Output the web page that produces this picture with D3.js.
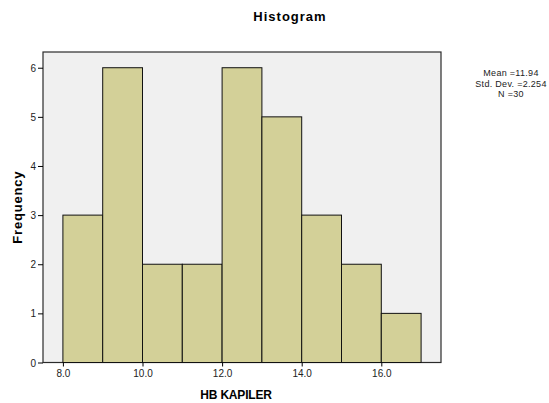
<!DOCTYPE html>
<html>
<head>
<meta charset="utf-8">
<script src="https://cdn.jsdelivr.net/npm/d3@7"></script>
<style>
  body { margin: 0; background: #fff; }
  svg { font-family: Arial, "Liberation Sans", sans-serif; }
</style>
</head>
<body>
<div id="chart"></div>
<script>
// histogram bins (lower edge) and counts, bin width 1
const binStarts = [8, 9, 10, 11, 12, 13, 14, 15, 16];
const binWidth = 1;
const counts = [3, 6, 2, 2, 6, 5, 3, 2, 1];
const xTicks = [8, 10, 12, 14, 16];
const yTicks = [0, 1, 2, 3, 4, 5, 6];
const statLines = ["Mean =11.94", "Std. Dev. =2.254", "N =30"];

const svgWidth = 549;
const svgHeight = 403;
const margin = { top: 52, right: 108, bottom: 40.5, left: 43 };
const width = svgWidth - margin.left - margin.right;
const height = svgHeight - margin.top - margin.bottom;

const svg = d3.select("#chart")
    .append("svg")
    .attr("width", svgWidth)
    .attr("height", svgHeight);

const g = svg.append("g")
    .attr("transform", `translate(${margin.left},${margin.top})`);

const x = d3.scaleLinear()
    .domain([7.5, 17.5])
    .range([0, width]);

const y = d3.scaleLinear()
    .domain([0, 6.32])
    .range([height, 0]);

// plot background + frame
g.append("rect")
    .attr("width", width)
    .attr("height", height)
    .attr("fill", "#f0f0f0")
    .attr("stroke", "#2b2b2b")
    .attr("stroke-width", 1.2);

// bars
g.selectAll(".bar")
    .data(binStarts)
    .enter()
    .append("rect")
    .attr("class", "bar")
    .attr("x", (d) => x(d))
    .attr("y", (d, i) => y(counts[i]))
    .attr("width", (d) => x(d + binWidth) - x(d))
    .attr("height", (d, i) => height - y(counts[i]))
    .attr("fill", "#d3d098")
    .attr("stroke", "#111")
    .attr("stroke-width", 1);

// axes
const xAxis = g.append("g")
    .attr("transform", `translate(0,${height})`)
    .call(d3.axisBottom(x).tickValues(xTicks).tickFormat(d3.format(".1f")).tickSize(4).tickSizeOuter(0));

const yAxis = g.append("g")
    .call(d3.axisLeft(y).tickValues(yTicks).tickFormat(d3.format("d")).tickSize(5).tickPadding(2).tickSizeOuter(0));

[xAxis, yAxis].forEach(a => {
    a.select(".domain").remove();
    a.selectAll("text").attr("font-size", "10px").attr("fill", "#222").attr("font-family", "Arial, 'Liberation Sans', sans-serif");
    a.selectAll("line").attr("stroke", "#000");
});
xAxis.selectAll("text").attr("y", 14).attr("dy", 0);
yAxis.selectAll("text").attr("dy", "0.35em");

// titles
svg.append("text")
    .text("Histogram")
    .attr("x", 290)
    .attr("y", 21)
    .attr("text-anchor", "middle")
    .attr("font-size", "13px")
    .attr("letter-spacing", "1px")
    .attr("font-weight", "bold");

svg.append("text")
    .text("HB KAPILER")
    .attr("x", 236)
    .attr("y", 399)
    .attr("text-anchor", "middle")
    .attr("font-size", "12px")
    .attr("letter-spacing", "-0.2px")
    .attr("font-weight", "bold");

svg.append("text")
    .text("Frequency")
    .attr("transform", `translate(22,${margin.top + height / 2}) rotate(-90)`)
    .attr("text-anchor", "middle")
    .attr("font-size", "13px")
    .attr("letter-spacing", "0.8px")
    .attr("font-weight", "bold");

// stats text at the right
svg.append("g")
    .selectAll("text")
    .data(statLines)
    .enter()
    .append("text")
    .text(d => d)
    .attr("x", 511)
    .attr("y", (d, i) => 76 + i * 10.5)
    .attr("text-anchor", "middle")
    .attr("font-size", "9px")
    .attr("letter-spacing", "0.3px")
    .attr("fill", "#222");
</script>
</body>
</html>
